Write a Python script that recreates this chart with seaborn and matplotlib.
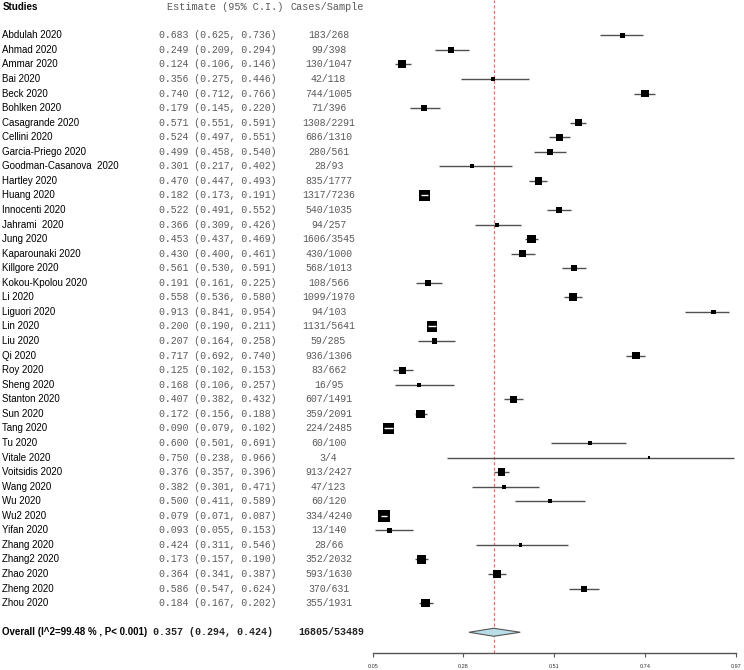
import matplotlib
matplotlib.use("Agg")
import matplotlib.pyplot as plt
import matplotlib.transforms as mtransforms
from matplotlib.patches import Polygon
import numpy as np
import pandas as pd
import seaborn as sns

studies = ["Abdulah 2020", "Ahmad 2020", "Ammar 2020", "Bai 2020", "Beck 2020", "Bohlken 2020",
           "Casagrande 2020", "Cellini 2020", "Garcia-Priego 2020", "Goodman-Casanova  2020",
           "Hartley 2020", "Huang 2020", "Innocenti 2020", "Jahrami  2020", "Jung 2020",
           "Kaparounaki 2020", "Killgore 2020", "Kokou-Kpolou 2020", "Li 2020", "Liguori 2020",
           "Lin 2020", "Liu 2020", "Qi 2020", "Roy 2020", "Sheng 2020", "Stanton 2020",
           "Sun 2020", "Tang 2020", "Tu 2020", "Vitale 2020", "Voitsidis 2020", "Wang 2020",
           "Wu 2020", "Wu2 2020", "Yifan 2020", "Zhang 2020", "Zhang2 2020", "Zhao 2020",
           "Zheng 2020", "Zhou 2020"]
estimate = [0.683, 0.249, 0.124, 0.356, 0.740, 0.179, 0.571, 0.524, 0.499, 0.301,
            0.470, 0.182, 0.522, 0.366, 0.453, 0.430, 0.561, 0.191, 0.558, 0.913,
            0.200, 0.207, 0.717, 0.125, 0.168, 0.407, 0.172, 0.090, 0.600, 0.750,
            0.376, 0.382, 0.500, 0.079, 0.093, 0.424, 0.173, 0.364, 0.586, 0.184]
ci_low = [0.625, 0.209, 0.106, 0.275, 0.712, 0.145, 0.551, 0.497, 0.458, 0.217,
          0.447, 0.173, 0.491, 0.309, 0.437, 0.400, 0.530, 0.161, 0.536, 0.841,
          0.190, 0.164, 0.692, 0.102, 0.106, 0.382, 0.156, 0.079, 0.501, 0.238,
          0.357, 0.301, 0.411, 0.071, 0.055, 0.311, 0.157, 0.341, 0.547, 0.167]
ci_high = [0.736, 0.294, 0.146, 0.446, 0.766, 0.220, 0.591, 0.551, 0.540, 0.402,
           0.493, 0.191, 0.552, 0.426, 0.469, 0.461, 0.591, 0.225, 0.580, 0.954,
           0.211, 0.258, 0.740, 0.153, 0.257, 0.432, 0.188, 0.102, 0.691, 0.966,
           0.396, 0.471, 0.589, 0.087, 0.153, 0.546, 0.190, 0.387, 0.624, 0.202]
cases = ["183/268", "99/398", "130/1047", "42/118", "744/1005", "71/396", "1308/2291",
         "686/1310", "280/561", "28/93", "835/1777", "1317/7236", "540/1035", "94/257",
         "1606/3545", "430/1000", "568/1013", "108/566", "1099/1970", "94/103", "1131/5641",
         "59/285", "936/1306", "83/662", "16/95", "607/1491", "359/2091", "224/2485",
         "60/100", "3/4", "913/2427", "47/123", "60/120", "334/4240", "13/140", "28/66",
         "352/2032", "593/1630", "370/631", "355/1931"]
# relative study weights (box side)
weights = [4.7, 6.0, 8.0, 4.0, 7.3, 6.0, 7.3, 6.7, 6.0, 4.0,
           7.3, 11.3, 6.0, 4.0, 8.7, 6.7, 6.0, 6.0, 8.0, 4.7,
           10.7, 5.3, 7.3, 6.7, 4.0, 6.7, 8.7, 10.7, 4.0, 2.7,
           7.3, 4.0, 4.0, 12.0, 5.3, 3.3, 8.7, 8.0, 6.0, 8.7]
overall_label = "Overall (I^2=99.48 % , P< 0.001)"
overall_est, overall_lo, overall_hi = 0.357, 0.294, 0.424
overall_cases = "16805/53489"
x_ticks = [0.05, 0.28, 0.51, 0.74, 0.97]

sns.set_theme(style="white")
plt.rcParams["font.family"] = ["Liberation Sans", "DejaVu Sans"]

W, H, DPI = 744, 670, 100
fig = plt.figure(figsize=(W / DPI, H / DPI), dpi=DPI)
fig.patch.set_facecolor("white")

x0_px, x1_px = 372.7, 735.7
axis_y_px = 652.7
ax = fig.add_axes([x0_px / W, (H - axis_y_px) / H, (x1_px - x0_px) / W, axis_y_px / H])
ax.set_facecolor("none")

row_h = 14.56
first_y = 35.3
ytop = -first_y / row_h
ybot = (axis_y_px - first_y) / row_h
ax.set_xlim(0.05, 0.97)
ax.set_ylim(ybot, ytop)

df = pd.DataFrame({"study": studies, "est": estimate, "lo": ci_low, "hi": ci_high,
                   "cases": cases, "w": weights})
df["row"] = np.arange(len(df))

px_to_pt = 72.0 / DPI
# confidence interval lines
ax.hlines(df["row"], df["lo"], df["hi"], color="#505050", lw=1.0, zorder=2)
# boxes
sns.scatterplot(data=df, x="est", y="row", marker="s", color="black",
                s=(df["w"] * px_to_pt) ** 2, linewidth=0, legend=False, ax=ax, zorder=3)
# CI drawn white where the box covers it
px_per_unit = (x1_px - x0_px) / (0.97 - 0.05)
inside = (df["hi"] - df["lo"]) * px_per_unit < df["w"]
sub = df[inside]
ax.hlines(sub["row"], sub["lo"], sub["hi"], color="white", lw=1.0, zorder=4)

# overall diamond
orow = len(df) + 1
dh = 4.0 / row_h
diamond = Polygon([(overall_lo, orow), (overall_est, orow - dh), (overall_hi, orow),
                   (overall_est, orow + dh)], closed=True, facecolor="#b9dde8",
                  edgecolor="#555555", lw=0.8, zorder=5)
ax.add_patch(diamond)

# reference line
ax.axvline(overall_est, color="#f26b6b", lw=0.9, ls=(0, (2.5, 1.8)), zorder=1)

# axis styling
for s in ["top", "right", "left"]:
    ax.spines[s].set_visible(False)
ax.spines["bottom"].set_color("#555555")
ax.spines["bottom"].set_linewidth(1.0)
ax.set_xticks(x_ticks)
ax.set_xticklabels([f"{t:.2f}" for t in x_ticks])
ax.tick_params(axis="x", direction="out", length=3, width=0.8, color="#555555",
               labelsize=4, labelcolor="#333333", pad=5, bottom=True)
ax.set_yticks([])
ax.set_xlabel("")
ax.set_ylabel("")

# text columns
trans = mtransforms.blended_transform_factory(fig.transFigure, ax.transData)
def fx(px):
    return px / W

mono = ["Liberation Mono", "DejaVu Sans Mono"]
sans = ["Liberation Sans", "DejaVu Sans"]
txt_grey = "#5a5a5a"
hy = -1.92
ax.text(fx(2.5), hy, "Studies", transform=trans, family=sans, fontsize=7,
        fontweight="bold", va="center", ha="left", color="black", clip_on=False)
ax.text(fx(167), hy, "Estimate (95% C.I.)", transform=trans, family=mono, fontsize=7.3,
        va="center", ha="left", color=txt_grey, clip_on=False)
ax.text(fx(327.5), hy, "Cases/Sample", transform=trans, family=mono, fontsize=7.3,
        va="center", ha="center", color=txt_grey, clip_on=False)

for _, r in df.iterrows():
    ax.text(fx(2.5), r["row"], r["study"], transform=trans, family=sans, fontsize=7,
            va="center", ha="left", color="black", clip_on=False)
    ax.text(fx(159), r["row"], f"{r['est']:.3f} ({r['lo']:.3f}, {r['hi']:.3f})",
            transform=trans, family=mono, fontsize=7.1, va="center", ha="left",
            color=txt_grey, clip_on=False)
    ax.text(fx(328.5), r["row"], r["cases"], transform=trans, family=mono, fontsize=7.1,
            va="center", ha="center", color=txt_grey, clip_on=False)

ax.text(fx(2.5), orow, overall_label, transform=trans, family=sans, fontsize=7,
        fontweight="bold", va="center", ha="left", color="black", clip_on=False)
ax.text(fx(153), orow, f"{overall_est:.3f} ({overall_lo:.3f}, {overall_hi:.3f})",
        transform=trans, family=mono, fontsize=7.2, fontweight="bold", va="center",
        ha="left", color="#222222", clip_on=False)
ax.text(fx(331.5), orow, overall_cases, transform=trans, family=mono, fontsize=7.2,
        fontweight="bold", va="center", ha="center", color="#222222", clip_on=False)

fig.savefig("out.png", dpi=DPI, facecolor="white")
